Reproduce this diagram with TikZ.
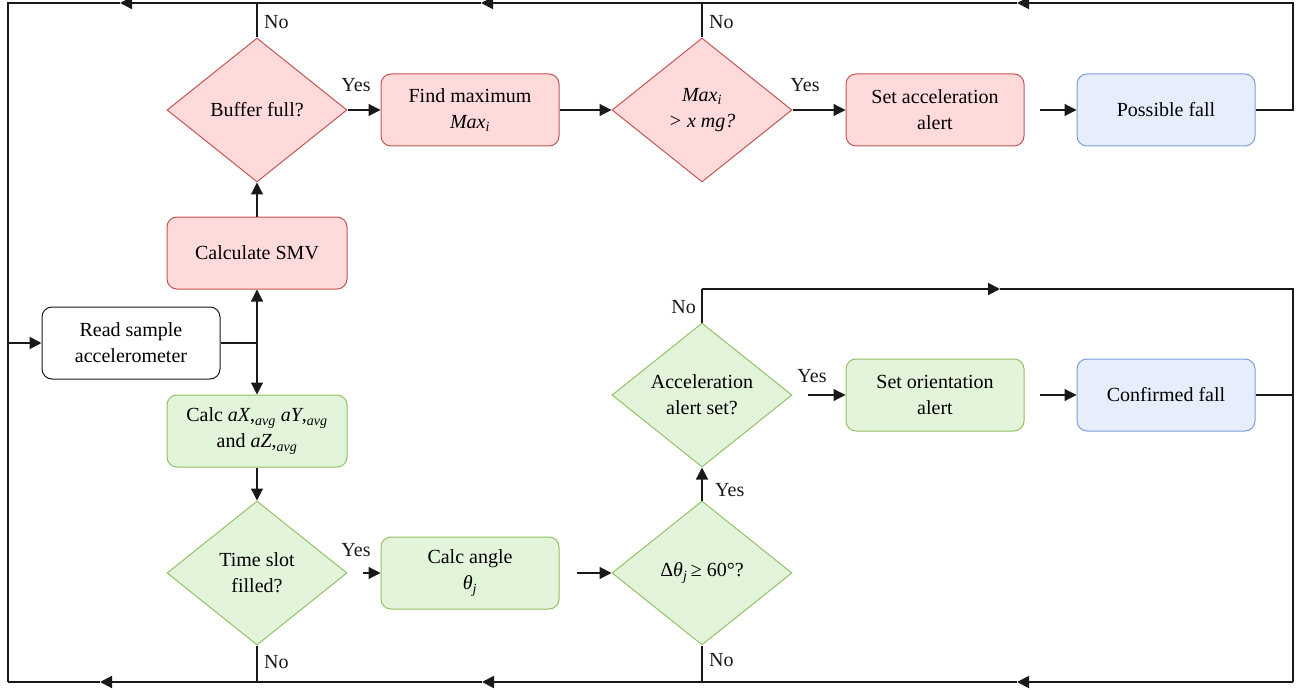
\documentclass[tikz,border=0pt]{standalone}
\usepackage{fontspec}
\setmainfont{Liberation Serif}
\usetikzlibrary{shapes.geometric,arrows.meta}
\definecolor{redfill}{RGB}{255,218,218}
\definecolor{redline}{RGB}{196,84,84}
\definecolor{greenfill}{RGB}{226,245,219}
\definecolor{greenline}{RGB}{148,192,100}
\definecolor{bluefill}{RGB}{230,238,251}
\definecolor{blueline}{RGB}{124,158,214}
\definecolor{ink}{RGB}{25,25,25}
\begin{document}
\begin{tikzpicture}[x=1pt,y=-1pt,
  font=\fontsize{20}{26}\selectfont,
  box/.style={draw, rounded corners=10pt, minimum width=178pt, minimum height=72pt, align=center, inner sep=2pt, line width=1pt},
  dia/.style={draw, diamond, minimum width=180pt, minimum height=144pt, inner sep=0pt, align=center, aspect=1.25, line width=1pt},
  redbox/.style={fill=redfill, draw=redline},
  greenbox/.style={fill=greenfill, draw=greenline},
  bluebox/.style={fill=bluefill, draw=blueline},
  whitebox/.style={fill=white, draw=ink},
  tip/.style={-{Triangle[length=12pt,width=12pt]}},
  conn/.style={draw=ink, line width=1.2pt},
  loopline/.style={draw=ink, line width=2pt},
  lbl/.style={inner sep=1pt, text=ink}
]
\useasboundingbox (0,0) rectangle (1302,690);

% nodes
\node[dia, redbox] (buf) at (257,110) {Buffer full?};
\node[box, redbox] (findmax) at (470,110) {Find maximum\\\textit{Max}\textsubscript{\textit{i}}};
\node[dia, redbox] (maxd) at (702,110) {\textit{Max}\textsubscript{\textit{i}}\\\textit{> x mg?}};
\node[box, redbox] (setacc) at (935,110) {Set acceleration\\alert};
\node[box, bluebox] (pf) at (1166,110) {Possible fall};
\node[box, redbox, minimum width=180pt] (smv) at (257,253) {Calculate SMV};
\node[box, whitebox] (read) at (131,343) {Read sample\\accelerometer};
\node[box, greenbox, minimum width=180pt] (calc) at (257,431) {Calc \textit{aX},\textsubscript{\textit{avg}} \textit{aY},\textsubscript{\textit{avg}}\\and \textit{aZ},\textsubscript{\textit{avg}}};
\node[dia, greenbox] (slot) at (257,573) {Time slot\\filled?};
\node[box, greenbox] (angle) at (470,573) {Calc angle\\\textit{θ}\textsubscript{\textit{j}}};
\node[dia, greenbox] (dth) at (702,573) {Δ\textit{θ}\textsubscript{\textit{j}}\,≥ 60°?};
\node[dia, greenbox] (accset) at (702,395) {Acceleration\\alert set?};
\node[box, greenbox] (setor) at (935,395) {Set orientation\\alert};
\node[box, bluebox] (cf) at (1166,395) {Confirmed fall};

% coordinates
\coordinate (TR) at (1293,3);
\coordinate (TL) at (8,3);
\coordinate (BL) at (8,682);
\coordinate (BR) at (1293,682);
\coordinate (t1) at (1017,3);
\coordinate (t2) at (481,3);
\coordinate (t3) at (120,3);
\coordinate (b1) at (1017,682);
\coordinate (b2) at (482,682);
\coordinate (b3) at (100,682);
\coordinate (L) at (8,343);
\coordinate (J) at (257,343);
\coordinate (nA) at (702,289);
\coordinate (nB) at (1000,289);
\coordinate (RT) at (1293,289);
\coordinate (cfR) at (1293,395);
\coordinate (s1) at (1040,110);
\coordinate (s2) at (1040,395);
\coordinate (s3) at (808,395);
\coordinate (s4) at (363,573);
\coordinate (s5) at (577,573);

% main horizontal flow
\draw[conn, tip] (buf.east) -- (findmax.west);
\draw[conn, tip] (findmax.east) -- (maxd.west);
\draw[conn, tip] (maxd.east) -- (setacc.west);
\draw[conn, tip] (s1) -- (pf.west);
\draw[conn, tip] (smv.north) -- (buf.south);
\draw[conn] (read.east) -- (J);
\draw[conn, tip] (J) -- (smv.south);
\draw[conn, tip] (J) -- (calc.north);
\draw[conn, tip] (calc.south) -- (slot.north);
\draw[conn, tip] (s4) -- (angle.west);
\draw[conn, tip] (s5) -- (dth.west);
\draw[conn, tip] (dth.north) -- (accset.south);
\draw[conn, tip] (s3) -- (setor.west);
\draw[conn, tip] (s2) -- (cf.west);

% top loop
\draw[loopline, tip] (pf.east) -| (TR) -- (t1);
\draw[loopline, tip] (t1) -- (t2);
\draw[loopline, tip] (t2) -- (t3);
\draw[loopline] (t3) -- (TL) -- (BL);
\draw[conn] (buf.north) -- (buf.north |- TL);
\draw[conn] (maxd.north) -- (maxd.north |- TL);

% bottom loop
\draw[conn] (accset.north) -- (nA);
\draw[loopline, tip] (nA) -- (nB);
\draw[loopline] (nB) -- (RT) -- (BR);
\draw[loopline, tip] (BR) -- (b1);
\draw[loopline, tip] (b1) -- (b2);
\draw[loopline, tip] (b2) -- (b3);
\draw[loopline] (b3) -- (BL);
\draw[conn] (cf.east) -- (cfR);
\draw[conn] (slot.south) -- (slot.south |- BL);
\draw[conn] (dth.south) -- (dth.south |- BL);
\draw[loopline, tip] (L) -- (read.west);

% labels
\node[lbl, anchor=west] at (263,22) {No};
\node[lbl, anchor=west] at (708,22) {No};
\node[lbl] at (356,85) {Yes};
\node[lbl] at (805,85) {Yes};
\node[lbl] at (812,376) {Yes};
\node[lbl] at (356,550) {Yes};
\node[lbl, anchor=west] at (714,490) {Yes};
\node[lbl, anchor=east] at (697,307) {No};
\node[lbl, anchor=west] at (263,662) {No};
\node[lbl, anchor=west] at (708,660) {No};
\end{tikzpicture}
\end{document}
